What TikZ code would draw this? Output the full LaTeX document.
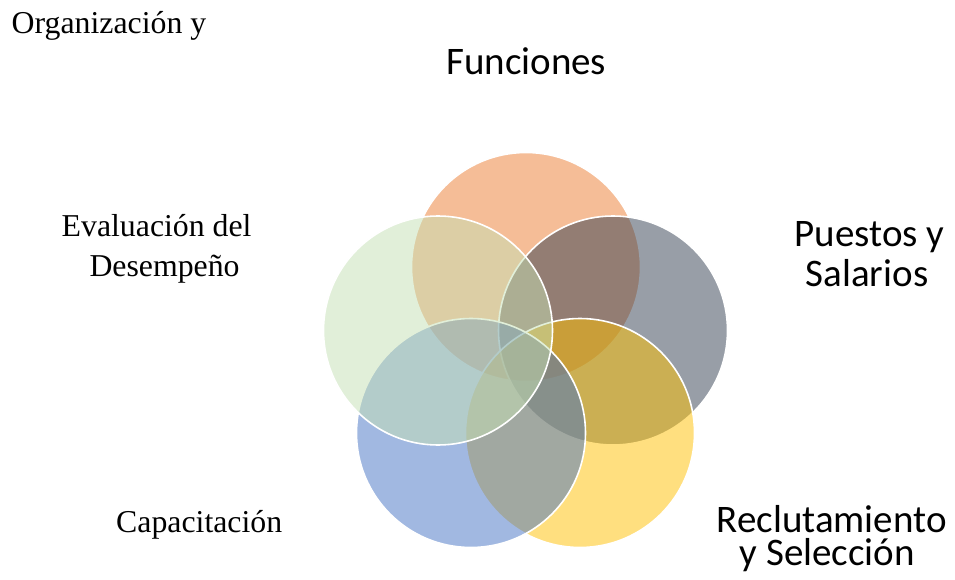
\documentclass[tikz,border=0pt]{standalone}
\usepackage{fontspec}
\setmainfont{Liberation Serif}
\newfontfamily\calfont{Carlito}
\definecolor{corange}{HTML}{ED7D31}
\definecolor{cgray}{HTML}{333F50}
\definecolor{cyellow}{HTML}{FFC000}
\definecolor{cblue}{HTML}{4472C4}
\definecolor{cgreen}{HTML}{C5E0B4}
\tikzset{
  venn/.style={draw=white, line width=1.6pt, fill opacity=0.5, draw opacity=1},
  serlabel/.style={inner sep=0pt, anchor=base west, font=\fontsize{31.8}{38}\selectfont},
  callabel/.style={inner sep=0pt, anchor=base west, font=\calfont\fontsize{39}{40}\selectfont}
}
\begin{document}
\begin{tikzpicture}[x=1pt,y=-1pt]
\useasboundingbox (0,0) rectangle (955,580);
\fill[white] (0,0) rectangle (955,580);
% circles
\path[venn, fill=corange] (526,267) circle[radius=114.5pt];
\path[venn, fill=cgray] (613,330.5) circle[radius=114.5pt];
\path[venn, fill=cyellow] (580,433) circle[radius=114.5pt];
\path[venn, fill=cblue] (471,433) circle[radius=114.5pt];
\path[venn, fill=cgreen] (438,330.5) circle[radius=114.5pt];
% labels
\node[serlabel] (org) at (11.5,33.3) {Organización y};
\node[callabel] (fun) at (446,74.3) {Funciones};
\node[callabel] (pue1) at (794.5,246.7) {Puestos y};
\node[callabel] (pue2) at (805.5,286.5) {Salarios};
\node[serlabel] (eva1) at (61.5,236.7) {Evaluación del};
\node[serlabel] (eva2) at (89.3,276) {Desempeño};
\node[serlabel] (cap) at (116,532.3) {Capacitación};
\node[callabel] (rec1) at (716.5,532.3) {Reclutamiento};
\node[callabel] (rec2) at (739.5,565) {y Selección};
\end{tikzpicture}
\end{document}
